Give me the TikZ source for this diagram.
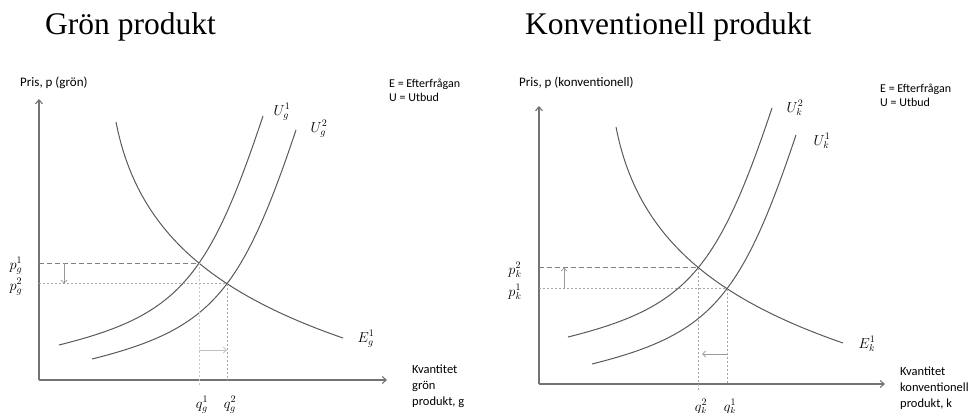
\documentclass[tikz,border=0pt]{standalone}
\usepackage{fontspec}
\setmainfont{Carlito}
\newfontfamily\titlefont{Liberation Serif}
\usetikzlibrary{arrows.meta,intersections}
\begin{document}
\begin{tikzpicture}[x=1pt,y=-1pt,
  curve/.style={draw=black!65, line width=1pt},
  axis/.style={draw=black!55, line width=1.1pt, -{Straight Barb[length=4pt,width=7pt]}},
  dashln/.style={draw=black!50, line width=0.8pt, dash pattern=on 5pt off 3pt},
  dotln/.style={draw=black!35, line width=0.6pt, dash pattern=on 2pt off 2pt},
  shiftarrow/.style={draw=black!35, line width=0.8pt, -{Straight Barb[length=3pt,width=6pt]}},
  lbl/.style={font=\fontsize{12}{14}\selectfont, inner sep=0pt, anchor=base west},
  axlbl/.style={font=\fontsize{13}{15}\selectfont, inner sep=0pt, anchor=base west},
  lblm/.style={font=\fontsize{12.5}{16}\selectfont, inner sep=0pt, anchor=north west, align=left},
  mlbl/.style={font=\fontsize{14}{16}\selectfont, inner sep=0pt},
  ttl/.style={font=\titlefont\fontsize{31.5}{35}\selectfont, inner sep=0pt, anchor=base west}]
\useasboundingbox (0,0) rectangle (973,412);

% shapes (relative to start point)
\def\Ushape#1{#1 .. controls ++(118.4,-29.6) and ++(-55,164.9) .. ++(204,-229)}

% ---------------- left panel ----------------
\node[ttl] (tg) at (45,35) {Grön produkt};
\node[axlbl] (pg) at (20,86) {Pris, p (grön)};
\node[lbl] (eg) at (389,87) {E = Efterfrågan};
\node[lbl] (ug) at (389,101) {U = Utbud};
\node[lblm] (kg) at (412,365) {Kvantitet\\grön\\produkt, g};

\coordinate (Og) at (39,380);
\coordinate (Yg) at (39,99);
\coordinate (Xg) at (387,380);
\draw[axis] (Og) -- (Yg);
\draw[axis] (Og) -- (Xg);

\draw[curve, name path=Eg] (116,122) .. controls (136,225) and (204,290) .. (343,338);
\draw[curve, name path=Ug1] (59,345) .. controls (177.4,315.4) and (208,281.1) .. (263,116);
\draw[curve, name path=Ug2] (92,359) .. controls (210.4,329.4) and (241,294.1) .. (296,130);

\path[name intersections={of=Eg and Ug1, by=Ag}];
\path[name intersections={of=Eg and Ug2, by=Bg}];
\coordinate (gax) at (64,0);
\coordinate (gay) at (0,350);
\coordinate (gbot) at (0,386);

\draw[dashln] (Og |- Ag) -- (Ag);
\draw[dotln] (Og |- Bg) -- (Bg);
\draw[dotln, draw=black!22] (Ag) -- (Ag |- gbot);
\draw[dotln] (Bg) -- (Bg |- Og);

\draw[shiftarrow, draw=black!40] (gax |- Ag) -- (gax |- Bg);
\draw[shiftarrow, draw=black!25] (Ag |- gay) -- (Bg |- gay);

\node[mlbl] (pg1) at (16,266) {$p_g^1$};
\node[mlbl] (pg2) at (16,287) {$p_g^2$};
\node[mlbl] (qg1) at (202,405) {$q_g^1$};
\node[mlbl] (qg2) at (230,405) {$q_g^2$};
\node[mlbl] (Eg1) at (366,339) {$E_g^1$};
\node[mlbl] (Ug1l) at (282,112) {$U_g^1$};
\node[mlbl] (Ug2l) at (319,129) {$U_g^2$};

% ---------------- right panel ----------------
\node[ttl] (tk) at (525,35) {Konventionell produkt};
\node[axlbl] (pk) at (519,86) {Pris, p (konventionell)};
\node[lbl] (ek) at (880,92) {E = Efterfrågan};
\node[lbl] (uk) at (880,106) {U = Utbud};
\node[lblm] (kk) at (900,367) {Kvantitet\\konventionell\\produkt, k};

\coordinate (Ok) at (539,384);
\coordinate (Yk) at (539,106);
\coordinate (Xk) at (885,384);
\draw[axis] (Ok) -- (Yk);
\draw[axis] (Ok) -- (Xk);

\draw[curve, name path=Ek] (616,127) .. controls (636,230) and (704,295) .. (843,343);
\draw[curve, name path=Uk2] (568,337) .. controls (686.4,307.4) and (717,272.1) .. (772,108);
\draw[curve, name path=Uk1] (592,364) .. controls (710.4,334.4) and (741,299.1) .. (796,135);

\path[name intersections={of=Ek and Uk2, by=Ak}];
\path[name intersections={of=Ek and Uk1, by=Bk}];
\coordinate (kax) at (564,0);
\coordinate (kay) at (0,354);
\coordinate (kbot) at (0,390);
\coordinate (kend) at (702,0);

\draw[dashln] (Ok |- Ak) -- (Ak);
\draw[dotln] (Ok |- Bk) -- (Bk);
\draw[dotln] (Ak) -- (Ak |- kbot);
\draw[dotln] (Bk) -- (Bk |- Ok);

\draw[shiftarrow, draw=black!40] (kax |- Bk) -- (kax |- Ak);
\draw[shiftarrow, draw=black!40] (Bk |- kay) -- (kend |- kay);

\node[mlbl] (pk2) at (515,270) {$p_k^2$};
\node[mlbl] (pk1) at (515,292) {$p_k^1$};
\node[mlbl] (qk2) at (701,407) {$q_k^2$};
\node[mlbl] (qk1) at (730,407) {$q_k^1$};
\node[mlbl] (Ek1) at (867,344) {$E_k^1$};
\node[mlbl] (Uk2l) at (795,108) {$U_k^2$};
\node[mlbl] (Uk1l) at (822,141) {$U_k^1$};
\end{tikzpicture}
\end{document}
